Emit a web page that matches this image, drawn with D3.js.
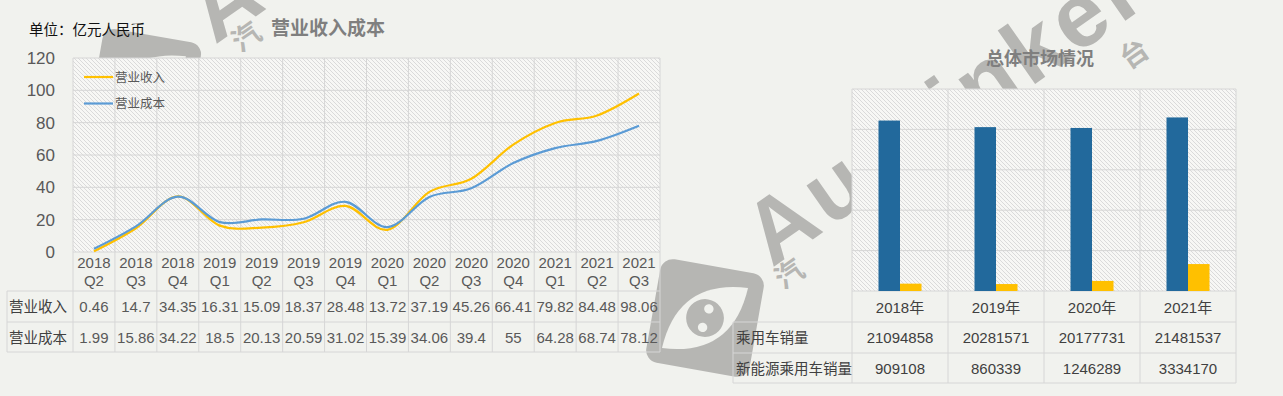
<!DOCTYPE html>
<html>
<head>
<meta charset="utf-8">
<script src="https://cdn.jsdelivr.net/npm/d3@7"></script>
<style>
  body { margin: 0; background: #f1f2ee; }
  svg { display: block; font-family: "Liberation Sans", "Noto Sans CJK SC", sans-serif; }
</style>
</head>
<body>
<div id="chart"></div>
<script>
// quarters on the left chart
var quarters = ["2018 Q2", "2018 Q3", "2018 Q4", "2019 Q1", "2019 Q2", "2019 Q3", "2019 Q4",
                "2020 Q1", "2020 Q2", "2020 Q3", "2020 Q4", "2021 Q1", "2021 Q2", "2021 Q3"];
var revenue  = [0.46, 14.7, 34.35, 16.31, 15.09, 18.37, 28.48, 13.72, 37.19, 45.26, 66.41, 79.82, 84.48, 98.06];
var cost     = [1.99, 15.86, 34.22, 18.5, 20.13, 20.59, 31.02, 15.39, 34.06, 39.4, 55, 64.28, 68.74, 78.12];
var yTicks   = [0, 20, 40, 60, 80, 100, 120];

// market overview on the right
var years    = ["2018年", "2019年", "2020年", "2021年"];
var carSales = [21094858, 20281571, 20177731, 21481537];
var nevSales = [909108, 860339, 1246289, 3334170];
var salesTicks = [0, 5000000, 10000000, 15000000, 20000000, 25000000];

var W = 1283, H = 396;
var gridColor = "#d6d6d6";
var textColor = "#595959";

var svg = d3.select("#chart").append("svg")
    .attr("width", W)
    .attr("height", H);

svg.append("rect").attr("width", W).attr("height", H).attr("fill", "#f1f2ee");

// hatch used by both plot areas
var defs = svg.append("defs");
var pat = defs.append("pattern")
    .attr("id", "hatch")
    .attr("patternUnits", "userSpaceOnUse")
    .attr("width", 4).attr("height", 4);
pat.append("rect").attr("width", 4).attr("height", 4).attr("fill", "#f7f7f5");
pat.append("path")
    .attr("d", "M0,0 L4,4 M-1,3 L1,5 M3,-1 L5,1")
    .attr("stroke", "#d3d3d3")
    .attr("stroke-width", 0.8);

// --- watermark (sits behind the charts) ---
var wmColor = "#b6b6b3";
var wm = svg.append("g").attr("fill", wmColor);
function logo(cx, cy, s) {
  var g = wm.append("g").attr("transform", "translate(" + cx + "," + cy + ") rotate(-35)");
  g.append("rect").attr("x", -s/2).attr("y", -s/2).attr("width", s).attr("height", s)
    .attr("rx", s * 0.12).attr("transform", "rotate(45)");
  g.append("path")
    .attr("d", "M" + (-s*0.5) + ",0 Q0," + (-s*0.45) + " " + (s*0.5) + ",0 Q0," + (s*0.45) + " " + (-s*0.5) + ",0Z")
    .attr("fill", "#f1f2ee");
  g.append("circle").attr("r", s*0.18).attr("fill", wmColor);
  g.append("circle").attr("r", s*0.045).attr("cx", -s*0.07).attr("cy", s*0.06).attr("fill", "#f1f2ee");
  g.append("circle").attr("r", s*0.045).attr("cx", s*0.08).attr("cy", -s*0.05).attr("fill", "#f1f2ee");
}
logo(705, 318, 105);
logo(145, 85, 100);
wm.append("text")
    .attr("transform", "translate(772,268) rotate(-35)")
    .style("font-size", "90px").style("font-weight", "bold")
    .style("letter-spacing", "5px")
    .text("Autoinker");
wm.append("text")
    .attr("transform", "translate(215,45) rotate(-35)")
    .style("font-size", "90px").style("font-weight", "bold")
    .style("letter-spacing", "5px")
    .text("Autoinker");
[["汽", 795, 282], ["汽", 252, 45], ["台", 1140, 62]].forEach(function(c) {
  wm.append("text")
    .attr("transform", "translate(" + c[1] + "," + c[2] + ") rotate(-35)")
    .attr("text-anchor", "middle")
    .style("font-family", "Noto Sans CJK SC")
    .style("font-size", "28px").style("font-weight", "bold")
    .text(c[0]);
});

// =================== left: revenue / cost lines ===================
var L = {left: 73, right: 660, top: 58, bottom: 252, tableLeft: 7};
var rowsL = [291, 322, 352];

var x = d3.scaleBand().domain(quarters).range([L.left, L.right]);
var y = d3.scaleLinear().domain([0, 120]).range([L.bottom, L.top]);

var left = svg.append("g");

left.append("rect")
    .attr("x", L.left).attr("y", L.top)
    .attr("width", L.right - L.left).attr("height", L.bottom - L.top)
    .attr("fill", "url(#hatch)");

// horizontal gridlines
left.selectAll(".hgrid")
  .data(yTicks)
  .enter().append("line")
    .attr("x1", L.left).attr("x2", L.right)
    .attr("y1", function(d) { return y(d); })
    .attr("y2", function(d) { return y(d); })
    .attr("stroke", gridColor);

// table rows under the plot
left.selectAll(".hrow")
  .data(rowsL)
  .enter().append("line")
    .attr("x1", L.tableLeft).attr("x2", L.right)
    .attr("y1", function(d) { return d; })
    .attr("y2", function(d) { return d; })
    .attr("stroke", gridColor);

// column separators run from plot top through the table
var colEdges = quarters.map(function(q) { return x(q); }).concat([L.right]);
left.selectAll(".vgrid")
  .data(colEdges)
  .enter().append("line")
    .attr("x1", function(d) { return d; }).attr("x2", function(d) { return d; })
    .attr("y1", L.top).attr("y2", rowsL[2])
    .attr("stroke", gridColor);
left.append("line")
    .attr("x1", L.tableLeft).attr("x2", L.tableLeft)
    .attr("y1", rowsL[0]).attr("y2", rowsL[2])
    .attr("stroke", gridColor);

// y axis labels
var yAxis = left.append("g")
    .attr("transform", "translate(" + (L.left - 18) + ",0)")
    .call(d3.axisLeft(y).tickValues(yTicks).tickSize(0).tickPadding(0));
yAxis.select(".domain").remove();
yAxis.selectAll("text")
    .style("font-family", "Liberation Sans, sans-serif")
    .style("font-size", "17px")
    .attr("fill", textColor);

// lines
var line = d3.line()
    .x(function(d, i) { return x(quarters[i]) + x.bandwidth() / 2; })
    .y(function(d) { return y(d); })
    .curve(d3.curveCatmullRom.alpha(0));

left.append("path")
    .datum(revenue)
    .attr("d", line)
    .attr("fill", "none")
    .attr("stroke", "#ffc000")
    .attr("stroke-width", 2.2);
left.append("path")
    .datum(cost)
    .attr("d", line)
    .attr("fill", "none")
    .attr("stroke", "#5b9bd5")
    .attr("stroke-width", 2.2);

// legend
[["营业收入", "#ffc000", 77], ["营业成本", "#5b9bd5", 103.5]].forEach(function(l) {
  left.append("line")
    .attr("x1", 84).attr("x2", 113).attr("y1", l[2]).attr("y2", l[2])
    .attr("stroke", l[1]).attr("stroke-width", 2.2);
  left.append("text")
    .attr("x", 115).attr("y", l[2] + 4.5)
    .style("font-family", "Noto Sans CJK SC")
    .style("font-size", "12.5px")
    .attr("fill", textColor)
    .text(l[0]);
});

// category labels (two lines)
var xl = left.selectAll(".xl")
  .data(quarters)
  .enter().append("text")
    .attr("text-anchor", "middle")
    .style("font-size", "15px")
    .attr("fill", textColor);
xl.append("tspan")
    .attr("x", function(d) { return x(d) + x.bandwidth() / 2; })
    .attr("y", 268)
    .text(function(d) { return d.split(" ")[0]; });
xl.append("tspan")
    .attr("x", function(d) { return x(d) + x.bandwidth() / 2; })
    .attr("y", 286)
    .text(function(d) { return d.split(" ")[1]; });

// table values
[["营业收入", revenue], ["营业成本", cost]].forEach(function(r, ri) {
  var yy = (rowsL[ri] + rowsL[ri + 1]) / 2 + 5.5;
  left.append("text")
    .attr("x", L.tableLeft + 2).attr("y", yy)
    .style("font-family", "Noto Sans CJK SC")
    .style("font-size", "14.5px")
    .attr("fill", "#404040")
    .text(r[0]);
  left.selectAll(null)
    .data(r[1])
    .enter().append("text")
      .attr("x", function(d, i) { return x(quarters[i]) + x.bandwidth() / 2; })
      .attr("y", yy)
      .attr("text-anchor", "middle")
      .style("font-size", "15px")
      .attr("fill", textColor)
      .text(function(d) { return d; });
});

// titles
svg.append("text")
    .attr("x", 328).attr("y", 35)
    .attr("text-anchor", "middle")
    .style("font-family", "Noto Sans CJK SC")
    .style("font-size", "19px").style("font-weight", "bold")
    .attr("fill", "#7f7f7f")
    .text("营业收入成本");
svg.append("text")
    .attr("x", 29).attr("y", 35)
    .style("font-family", "Noto Sans CJK SC")
    .style("font-size", "14.5px")
    .attr("fill", "#111")
    .text("单位：亿元人民币");

// =================== right: market bars ===================
var R = {left: 852, right: 1236, top: 89, bottom: 291, tableLeft: 733};
var rowsR = [291, 322, 353, 383];

var xb = d3.scaleBand().domain(years).range([R.left, R.right]);
var yb = d3.scaleLinear().domain([0, 25000000]).range([R.bottom, R.top]);
var groupW = 43;
var xs = d3.scaleBand().domain(["car", "nev"])
    .range([(xb.bandwidth() - groupW) / 2, (xb.bandwidth() + groupW) / 2]);

var right = svg.append("g");

right.append("rect")
    .attr("x", R.left).attr("y", R.top)
    .attr("width", R.right - R.left).attr("height", R.bottom - R.top)
    .attr("fill", "url(#hatch)");

right.selectAll(".hgrid")
  .data(salesTicks)
  .enter().append("line")
    .attr("x1", R.left).attr("x2", R.right)
    .attr("y1", function(d) { return yb(d); })
    .attr("y2", function(d) { return yb(d); })
    .attr("stroke", gridColor);

right.selectAll(".hrow")
  .data(rowsR.slice(1))
  .enter().append("line")
    .attr("x1", R.tableLeft).attr("x2", R.right)
    .attr("y1", function(d) { return d; })
    .attr("y2", function(d) { return d; })
    .attr("stroke", gridColor);

var colEdgesR = years.map(function(yr) { return xb(yr); }).concat([R.right]);
right.selectAll(".vgrid")
  .data(colEdgesR)
  .enter().append("line")
    .attr("x1", function(d) { return d; }).attr("x2", function(d) { return d; })
    .attr("y1", R.top).attr("y2", rowsR[3])
    .attr("stroke", gridColor);
right.append("line")
    .attr("x1", R.tableLeft).attr("x2", R.tableLeft)
    .attr("y1", rowsR[1]).attr("y2", rowsR[3])
    .attr("stroke", gridColor);

// bars
[["car", carSales, "#22699c"], ["nev", nevSales, "#ffc000"]].forEach(function(s) {
  right.selectAll(null)
    .data(s[1])
    .enter().append("rect")
      .attr("x", function(d, i) { return xb(years[i]) + xs(s[0]); })
      .attr("y", function(d) { return yb(d); })
      .attr("width", xs.bandwidth())
      .attr("height", function(d) { return R.bottom - yb(d); })
      .attr("fill", s[2]);
});

// category labels
right.selectAll(".xl")
  .data(years)
  .enter().append("text")
    .attr("x", function(d) { return xb(d) + xb.bandwidth() / 2; })
    .attr("y", 313)
    .attr("text-anchor", "middle")
    .style("font-size", "15px")
    .attr("fill", "#404040")
    .text(function(d) { return d; });

[["乘用车销量", carSales], ["新能源乘用车销量", nevSales]].forEach(function(r, ri) {
  var yy = (rowsR[ri + 1] + rowsR[ri + 2]) / 2 + 5.5;
  right.append("text")
    .attr("x", R.tableLeft + 3).attr("y", yy)
    .style("font-family", "Noto Sans CJK SC")
    .style("font-size", "14.5px")
    .attr("fill", "#404040")
    .text(r[0]);
  right.selectAll(null)
    .data(r[1])
    .enter().append("text")
      .attr("x", function(d, i) { return xb(years[i]) + xb.bandwidth() / 2; })
      .attr("y", yy)
      .attr("text-anchor", "middle")
      .style("font-size", "15px")
      .attr("fill", "#404040")
      .text(function(d) { return d; });
});

svg.append("text")
    .attr("x", 1040).attr("y", 65)
    .attr("text-anchor", "middle")
    .style("font-family", "Noto Sans CJK SC")
    .style("font-size", "18px").style("font-weight", "bold")
    .attr("fill", "#7f7f7f")
    .text("总体市场情况");

// source note, cut by the bottom edge
svg.append("text")
    .attr("x", 1145).attr("y", 408)
    .style("font-family", "Noto Sans CJK SC")
    .style("font-size", "14px")
    .attr("fill", "#1f3864")
    .text("数据来源：");
</script>
</body>
</html>
